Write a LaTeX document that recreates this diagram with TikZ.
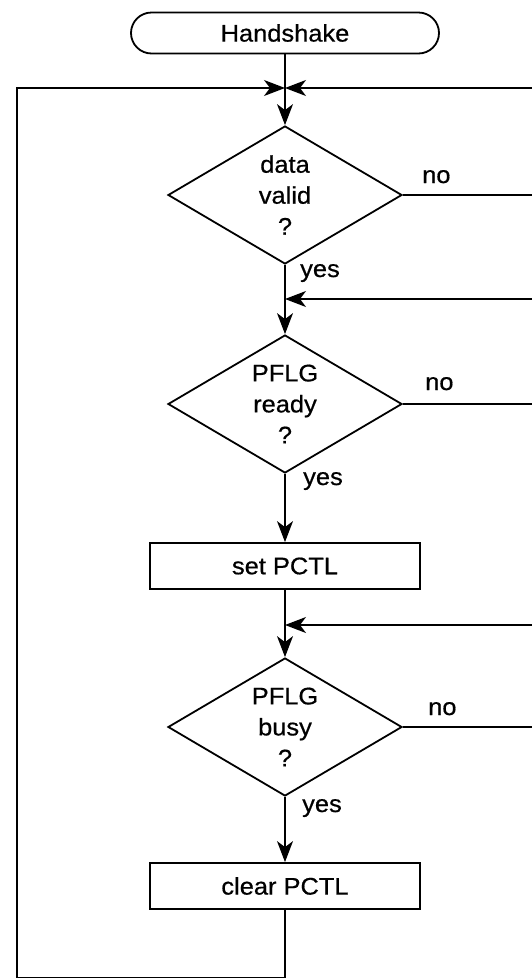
\documentclass[tikz,border=0pt]{standalone}
\usepackage{fontspec}
\setmainfont{Liberation Sans}[FakeStretch=1.06, FakeBold=0.6]
\usetikzlibrary{shapes.geometric,arrows.meta}

\tikzset{
  txt/.style={font=\fontsize{24}{31}\selectfont, align=center},
  term/.style={txt, draw, line width=1.8pt, rectangle, rounded corners=20.5pt,
    minimum width=308pt, minimum height=41pt, inner sep=0pt},
  proc/.style={txt, draw, line width=1.8pt, rectangle,
    minimum width=270pt, minimum height=46pt, inner sep=0pt},
  dec/.style={txt, draw, line width=1.8pt, diamond, aspect=1.7,
    minimum width=234pt, minimum height=138pt, inner sep=0pt},
  flow/.style={line width=1.3pt},
  head/.style={flow, -{Stealth[length=21pt, width=16pt, inset=6pt]}},
  lbl/.style={font=\fontsize{24}{26}\selectfont, inner sep=0pt},
}

\begin{document}
\begin{tikzpicture}[x=1pt, y=-1pt]
  \useasboundingbox (0,0) rectangle (532,978);

  % main column
  \node[term] (start) at (285,33) {Handshake};
  \coordinate (m0) at (285,88);
  \node[dec] (d1) at (285,195) {data\\valid\\?};
  \coordinate (m1) at (285,299);
  \node[dec] (d2) at (285,404) {PFLG\\ready\\?};
  \node[proc] (s) at (285,566) {set PCTL};
  \coordinate (m2) at (285,625);
  \node[dec] (d3) at (285,727) {PFLG\\busy\\?};
  \node[proc] (c) at (285,886) {clear PCTL};

  % loop-back corners and off-page ends
  \coordinate (bot) at (285,977.3);
  \coordinate (bl) at (17,977.3);
  \coordinate (tl) at (17,88);
  \coordinate (r0) at (532,88);
  \coordinate (r1) at (532,299);
  \coordinate (r2) at (532,625);
  \coordinate (n1) at (d1.east -| r0);
  \coordinate (n2) at (d2.east -| r0);
  \coordinate (n3) at (d3.east -| r0);

  % forward flow
  \draw[head] (start.south) -- (d1.north);
  \draw[head] (d1.south) -- (d2.north);
  \draw[head] (d2.south) -- (s.north);
  \draw[head] (s.south) -- (d3.north);
  \draw[head] (d3.south) -- (c.north);

  % loop back from the end to the top
  \draw[head] (c.south) -- (bot) -- (bl) -- (tl) -- (m0);
  \draw[head] (r0) -- (m0);

  % re-entry points from the right
  \draw[head] (r1) -- (m1);
  \draw[head] (r2) -- (m2);

  % "no" exits
  \draw[flow] (d1.east) -- (n1);
  \draw[flow] (d2.east) -- (n2);
  \draw[flow] (d3.east) -- (n3);

  % branch labels
  \node[lbl, anchor=base west] (no1) at (422,183) {no};
  \node[lbl, anchor=base west] (no2) at (425,390) {no};
  \node[lbl, anchor=base west] (no3) at (428,715) {no};
  \node[lbl, anchor=base west] (yes1) at (300,277) {yes};
  \node[lbl, anchor=base west] (yes2) at (303,485) {yes};
  \node[lbl, anchor=base west] (yes3) at (302,812) {yes};
\end{tikzpicture}
\end{document}
